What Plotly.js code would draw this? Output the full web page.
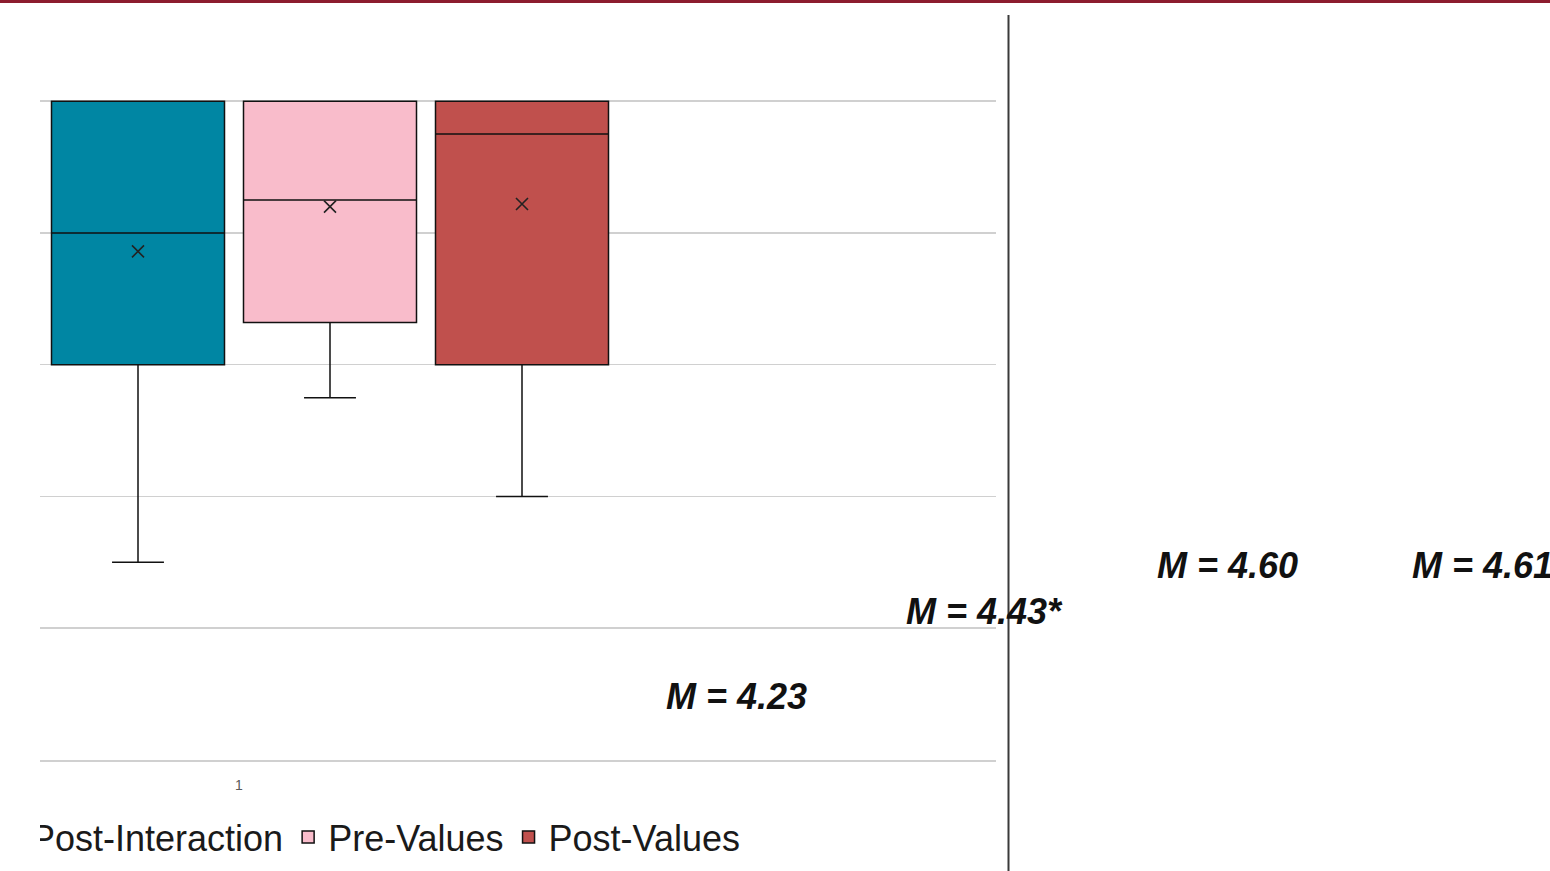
<!DOCTYPE html>
<html>
<head>
<meta charset="utf-8">
<script src="https://cdn.plot.ly/plotly-3.0.1.min.js"></script>
<style>
  html, body { margin: 0; padding: 0; background: #fff; }
  #wrap { position: relative; width: 1550px; height: 871px; overflow: hidden; }
  #chart { width: 1550px; height: 871px; }
  #cover { position: absolute; left: 0; top: 4px; width: 40px; height: 867px; background: #fff; }
</style>
</head>
<body>
<div id="wrap">
  <div id="chart"></div>
  <div id="cover"></div>
</div>
<script>
// ---- data ----
const seriesNames = ['Post-Interaction', 'Pre-Values', 'Post-Values'];
const positions = [0, 1, 2];
const q1Values = [4.0, 4.16, 4.0];
const medianValues = [4.5, 4.625, 4.875];
const q3Values = [5.0, 5.0, 5.0];
const lowerFences = [3.25, 3.875, 3.5];
const upperFences = [5.0, 5.0, 5.0];
const meanValues = [4.43, 4.60, 4.61];
const categoryLabels = ['1'];
const meanLabels = ['M = 4.23', 'M = 4.43*', 'M = 4.60', 'M = 4.61'];

// ---- styling ----
const fillColors = ['#0086A3', '#F9BCCB', '#C0504D'];
const W = 1550, H = 871;
const plotL = 40, plotR = 996, plotT = 88, plotB = 760;
const px = x => (x - plotL) / (plotR - plotL);
const py = y => (plotB - y) / (plotB - plotT);
const unit = 192;

const traces = [];
seriesNames.forEach((name, i) => {
  traces.push({
    type: 'box',
    name: name,
    x: [positions[i]],
    q1: [q1Values[i]],
    median: [medianValues[i]],
    q3: [q3Values[i]],
    lowerfence: [lowerFences[i]],
    upperfence: [upperFences[i]],
    width: 173 / unit,
    whiskerwidth: 0.3,
    fillcolor: fillColors[i],
    line: { color: '#111111', width: 1.5 },
    hoverinfo: 'skip',
    showlegend: true
  });
});
traces.push({
  type: 'scatter',
  mode: 'markers',
  x: positions,
  y: meanValues,
  marker: { symbol: 'x-thin-open', size: 12, color: '#222222', line: { color: '#222222', width: 1.6 } },
  showlegend: false,
  hoverinfo: 'skip'
});

const annPos = [
  { x: 736, y: 696, anchor: 'center' },
  { x: 984, y: 611, anchor: 'center' },
  { x: 1227, y: 565, anchor: 'center' },
  { x: 1410, y: 565, anchor: 'left' }
];
const annotations = meanLabels.map((t, i) => ({
  xref: 'paper', yref: 'paper',
  x: px(annPos[i].x), y: py(annPos[i].y),
  xanchor: annPos[i].anchor, yanchor: 'middle',
  text: t, showarrow: false,
  font: { family: 'Liberation Sans, Arial, sans-serif', size: 36, color: '#111111', weight: 'bold', style: 'italic' }
}));

const layout = {
  width: W, height: H,
  margin: { l: plotL, r: W - plotR, t: plotT, b: H - plotB, autoexpand: false },
  paper_bgcolor: '#ffffff',
  plot_bgcolor: '#ffffff',
  showlegend: true,
  legend: {
    orientation: 'h',
    xref: 'paper', yref: 'paper',
    x: px(-9), y: py(837),
    xanchor: 'left', yanchor: 'middle',
    font: { family: 'Liberation Sans, sans-serif', size: 36, color: '#1a1a1a' },
    bgcolor: 'rgba(0,0,0,0)',
    traceorder: 'normal'
  },
  xaxis: {
    range: [(plotL - 138) / unit, (plotR - 138) / unit],
    showgrid: false, zeroline: false,
    showline: true, linecolor: '#d0d0d0', linewidth: 1.5,
    ticks: '',
    ticklabelstandoff: 12,
    tickvals: [(239 - 138) / unit],
    ticktext: categoryLabels,
    tickfont: { family: 'Liberation Sans, sans-serif', size: 14, color: '#595959' },
    fixedrange: true
  },
  yaxis: {
    range: [2.5, 5.05],
    tick0: 0, dtick: 0.5,
    showgrid: true, gridcolor: '#d0d0d0', gridwidth: 1.5,
    zeroline: false, showline: false,
    showticklabels: false, ticks: '',
    fixedrange: true
  },
  shapes: [
    { type: 'line', xref: 'paper', yref: 'paper', x0: px(0), x1: px(W), y0: py(1.5), y1: py(1.5),
      line: { color: '#8C1D2E', width: 3 }, layer: 'above' },
    { type: 'line', xref: 'paper', yref: 'paper', x0: px(1008.5), x1: px(1008.5), y0: py(15), y1: py(871),
      line: { color: '#3a3a3a', width: 2 }, layer: 'above' }
  ],
  annotations: annotations
};

Plotly.newPlot('chart', traces, layout, { displayModeBar: false, staticPlot: true });
</script>
</body>
</html>
